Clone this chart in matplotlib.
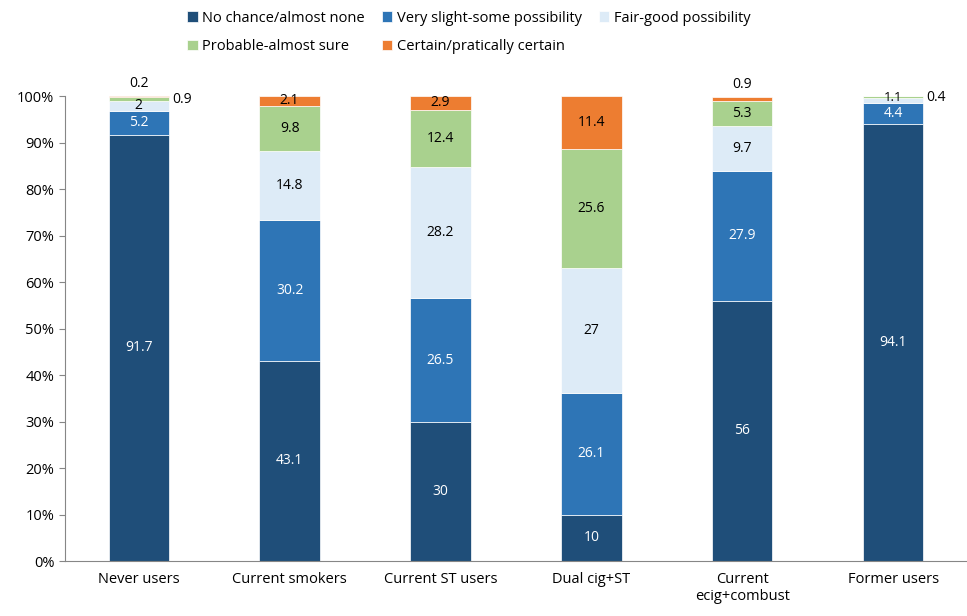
import numpy as np
from matplotlib import pyplot as plt
from matplotlib.ticker import PercentFormatter

plt.rcParams['font.family'] = ['Open Sans', 'DejaVu Sans']

groups = ["Never users", "Current smokers", "Current ST users", "Dual cig+ST",
          "Current\necig+combust", "Former users"]
series = ["No chance/almost none", "Very slight-some possibility", "Fair-good possibility",
          "Probable-almost sure", "Certain/pratically certain"]
no_chance = [91.7, 43.1, 30, 10, 56, 94.1]
slight = [5.2, 30.2, 26.5, 26.1, 27.9, 4.4]
fair = [2, 14.8, 28.2, 27, 9.7, 1.1]
probable = [0.9, 9.8, 12.4, 25.6, 5.3, 0.4]
certain = [0.2, 2.1, 2.9, 11.4, 0.9, 0]
colors = ["#1F4E79", "#2E75B6", "#DDEBF7", "#A9D18E", "#ED7D31"]
txtcol = ["white", "white", "black", "black", "black"]

data = [no_chance, slight, fair, probable, certain]

fig = plt.figure(figsize=(9.67, 6.16), dpi=100)
ax = fig.add_axes([0.067, 0.089, 0.933, 0.755])
x = np.arange(len(groups))
bottom = np.zeros(len(groups))
handles = []
for i, vals in enumerate(data):
    vals = np.array(vals, dtype=float)
    b = ax.bar(x, vals, 0.4, bottom=bottom, color=colors[i], label=series[i],
               edgecolor="white", linewidth=0.5)
    handles.append(b)
    for j, v in enumerate(vals):
        if v == 0:
            continue
        lbl = f"{v:g}"
        cy = bottom[j] + v / 2
        if v < 1.0 and i == 3:
            ax.text(x[j] + 0.22, cy, lbl, ha="left", va="center", fontsize=10, color="black")
        elif v < 1.0 and i == 4:
            ax.text(x[j], bottom[j] + v + 1.0, lbl, ha="center", va="bottom", fontsize=10, color="black")
        elif v < 1.5:
            ax.text(x[j], cy + 0.6, lbl, ha="center", va="center", fontsize=9.5, color=txtcol[i])
        else:
            ax.text(x[j], cy, lbl, ha="center", va="center", fontsize=10, color=txtcol[i])
    bottom += vals

ax.set_ylim(0, 100)
ax.set_xlim(-0.49, 5.49)
ax.set_yticks(np.arange(0, 101, 10))
ax.yaxis.set_major_formatter(PercentFormatter(decimals=0))
ax.set_xticks(x)
ax.set_xticklabels(groups)
ax.tick_params(axis="both", labelsize=10.5, direction="out", length=4, color="#868686")
ax.tick_params(axis="x", length=0, pad=8)
for s in ["top", "right"]:
    ax.spines[s].set_visible(False)
for s in ["left", "bottom"]:
    ax.spines[s].set_color("#868686")

order = [0, 3, 1, 4, 2]
fig.legend([handles[k] for k in order], [series[k] for k in order], ncol=3,
           loc="upper center", bbox_to_anchor=(0.485, 1.004), frameon=False, fontsize=10.5,
           handlelength=0.7, handleheight=0.7, handletextpad=0.3, columnspacing=1.2,
           labelspacing=0.9)

plt.savefig("out.png", dpi=100)
